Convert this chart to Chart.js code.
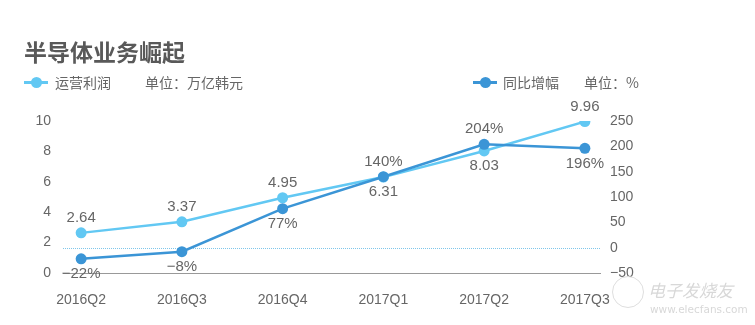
<!DOCTYPE html>
<html>
<head>
<meta charset="utf-8">
<script src="https://cdn.jsdelivr.net/npm/chart.js@4"></script>
<style>
  html, body { margin: 0; padding: 0; background: #fff; }
  body { width: 755px; height: 325px; position: relative; overflow: hidden;
         font-family: "Noto Sans CJK SC", "Noto Sans", sans-serif; }
  #wrap { position: absolute; left: 0; top: 0; width: 755px; height: 325px; }
  .t { position: absolute; color: #666; white-space: nowrap; }
  #title { left: 24px; top: 36px; font-size: 23px; font-weight: bold; color: #595959; line-height: 30px; }
  .lg { font-size: 14px; line-height: 20px; top: 72px; }
  .mk { position: absolute; top: 81px; height: 3px; }
  .dot { position: absolute; top: 77px; width: 11px; height: 11px; border-radius: 50%; }
  #wm0 { position: absolute; left: 612px; top: 276px; width: 30px; height: 30px; border: 1.5px solid #dedede; border-radius: 50%; }
  #wm1 { left: 648px; top: 279px; font-size: 17px; line-height: 22px; color: #d8d8d8; font-style: italic; }
  #wm2 { left: 650px; top: 302px; font-size: 10.5px; line-height: 14px; color: #d8d8d8; font-family: "DejaVu Sans", sans-serif; }
</style>
</head>
<body>
<div id="wrap"><canvas id="myChart" width="755" height="325"></canvas></div>
<div class="t" id="title">半导体业务崛起</div>
<div class="mk" style="left:24px;width:24px;background:#62c8f3"></div>
<div class="dot" style="left:31px;background:#62c8f3"></div>
<div class="t lg" style="left:55px">运营利润</div>
<div class="t lg" style="left:145px">单位：万亿韩元</div>
<div class="mk" style="left:473px;width:24px;background:#3b95d6"></div>
<div class="dot" style="left:480px;background:#3b95d6"></div>
<div class="t lg" style="left:503px">同比增幅</div>
<div class="t lg" style="left:584px">单位：%</div>
<div id="wm0"></div>
<div class="t" id="wm1">电子发烧友</div>
<div class="t" id="wm2">www.elecfans.com</div>
<script>
// categories and values
var quarters = ["2016Q2", "2016Q3", "2016Q4", "2017Q1", "2017Q2", "2017Q3"];
var profit = [2.64, 3.37, 4.95, 6.31, 8.03, 9.96];      // 万亿韩元
var growth = [-22, -8, 77, 140, 204, 196];               // %
var leftTicks = [0, 2, 4, 6, 8, 10];
var rightTicks = [-50, 0, 50, 100, 150, 200, 250];
// where each label goes: true = above the point
var profitAbove = [true, true, true, false, false, true];
var growthAbove = [false, false, false, true, true, false];

var light = '#62c8f3';
var dark = '#3b95d6';
var font = '"Helvetica Neue", "Liberation Sans", Arial, sans-serif';

function pts(arr) {
    return arr.map(function (v, i) { return { x: i, y: v }; });
}

// draws the value labels next to each point
var valueLabels = {
    id: 'valueLabels',
    afterDatasetsDraw: function (chart) {
        var c = chart.ctx;
        c.save();
        c.font = '15px ' + font;
        c.fillStyle = '#666';
        c.textAlign = 'center';
        c.textBaseline = 'middle';
        chart.data.datasets.forEach(function (ds, di) {
            var meta = chart.getDatasetMeta(di);
            meta.data.forEach(function (p, i) {
                var txt = ds.fmt(ds.data[i].y);
                c.fillText(txt, p.x, ds.above[i] ? p.y - 15 : p.y + 15);
            });
        });
        c.restore();
    }
};

// dotted zero line on the right axis
var zeroLine = {
    id: 'zeroLine',
    beforeDatasetsDraw: function (chart) {
        var c = chart.ctx, a = chart.chartArea;
        var y = chart.scales.y2.getPixelForValue(0);
        c.save();
        c.strokeStyle = '#7fc6ea';
        c.lineWidth = 1;
        c.setLineDash([1, 1]);
        c.beginPath();
        c.moveTo(a.left, Math.round(y) + 0.5);
        c.lineTo(a.right, Math.round(y) + 0.5);
        c.stroke();
        c.restore();
    }
};

var ctx = document.getElementById('myChart').getContext('2d');
var chart = new Chart(ctx, {
    type: 'line',
    data: {
        datasets: [{
            label: '同比增幅',
            data: pts(growth),
            yAxisID: 'y2',
            borderColor: dark,
            backgroundColor: dark,
            borderWidth: 2.5,
            pointRadius: 5.5,
            pointBorderWidth: 0,
            above: growthAbove,
            fmt: function (v) { return (v < 0 ? '\u2212' + (-v) : v) + '%'; }
        }, {
            label: '运营利润',
            data: pts(profit),
            yAxisID: 'y',
            borderColor: light,
            backgroundColor: light,
            borderWidth: 2.5,
            pointRadius: 5.5,
            pointBorderWidth: 0,
            above: profitAbove,
            fmt: function (v) { return v.toFixed(2); }
        }]
    },
    options: {
        responsive: false,
        animation: false,
        layout: { padding: { left: 0, right: 0, top: 121, bottom: 0 } },
        plugins: { legend: { display: false }, tooltip: { enabled: false } },
        scales: {
            x: {
                type: 'linear',
                min: -0.18,
                max: 5.15,
                afterBuildTicks: function (s) {
                    s.ticks = quarters.map(function (q, i) { return { value: i }; });
                },
                afterFit: function (s) { s.height = 52; },
                grid: { display: false, drawTicks: false },
                border: { display: true, color: '#999', width: 1 },
                ticks: {
                    autoSkip: false,
                    maxRotation: 0,
                    padding: 19,
                    color: '#666',
                    font: { size: 14, family: font },
                    callback: function (v) { return quarters[v]; }
                }
            },
            y: {
                position: 'left',
                min: 0,
                max: 10,
                afterBuildTicks: function (s) {
                    s.ticks = leftTicks.map(function (v) { return { value: v }; });
                },
                afterFit: function (s) { s.width = 63; },
                grid: { display: false, drawTicks: false },
                border: { display: false },
                ticks: {
                    padding: 12,
                    color: '#666',
                    font: { size: 14, family: font }
                }
            },
            y2: {
                position: 'right',
                min: -50,
                max: 250,
                afterBuildTicks: function (s) {
                    s.ticks = rightTicks.map(function (v) { return { value: v }; });
                },
                afterFit: function (s) { s.width = 155; },
                grid: { display: false, drawTicks: false },
                border: { display: false },
                ticks: {
                    padding: 10,
                    color: '#666',
                    font: { size: 14, family: font },
                    callback: function (v) { return v < 0 ? '\u2212' + (-v) : v; }
                }
            }
        }
    },
    plugins: [valueLabels, zeroLine]
});
</script>
</body>
</html>
